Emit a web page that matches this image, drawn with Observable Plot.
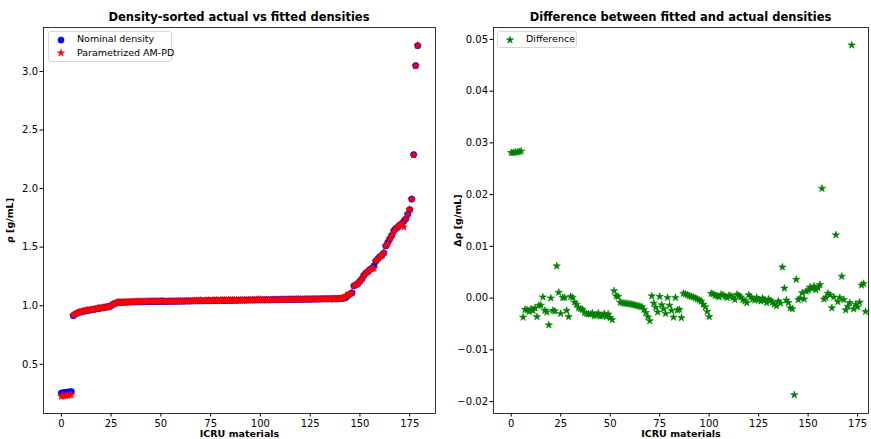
<!DOCTYPE html>
<html><head><meta charset="utf-8">
<script src="https://cdn.jsdelivr.net/npm/d3@7"></script>
<script src="https://cdn.jsdelivr.net/npm/@observablehq/plot@0.6"></script>
<style>
body{margin:0;background:#fff;font-family:"DejaVu Sans",sans-serif;}
#wrap{position:relative;width:871px;height:439px;overflow:hidden;background:#fff;}
.panel{position:absolute;top:0;}
.title{position:absolute;top:10px;font-weight:bold;font-size:11.5px;white-space:nowrap;transform:translateX(-50%);color:#000;}
.legend{position:absolute;border:1px solid #d6d6d6;border-radius:3px;background:rgba(255,255,255,0.85);font-size:9.5px;color:#000;}
.legend svg{position:absolute;overflow:visible;}
.legend span{position:absolute;line-height:12px;white-space:nowrap;}
g[aria-label="x-axis label"] text, g[aria-label="y-axis label"] text{font-weight:bold;font-size:9.5px;}
</style>
</head><body>
<div id="wrap"></div>
<script>
// ---- data ----
const xTicks = [0, 25, 50, 75, 100, 125, 150, 175];
const yTicksLeft = [0.5, 1.0, 1.5, 2.0, 2.5, 3.0];
const yTicksRight = [-0.02, -0.01, 0.00, 0.01, 0.02, 0.03, 0.04, 0.05];

// Nominal densities (g/mL), sorted, ICRU materials 0..179
const nominalDensity = [
  0.255, 0.258, 0.260, 0.262, 0.265, 0.268, 0.915, 0.928, 0.937, 0.943,
  0.948, 0.952, 0.956, 0.959, 0.962, 0.965, 0.968, 0.971, 0.974, 0.977,
  0.980, 0.983, 0.986, 0.990, 0.994, 1.000, 1.012, 1.020, 1.026, 1.028,
  1.029, 1.030, 1.030, 1.031, 1.031, 1.032, 1.032, 1.032, 1.033, 1.033,
  1.033, 1.034, 1.034, 1.034, 1.035, 1.035, 1.035, 1.035, 1.036, 1.036,
  1.036, 1.037, 1.037, 1.037, 1.038, 1.038, 1.038, 1.038, 1.039, 1.039,
  1.039, 1.039, 1.040, 1.040, 1.040, 1.040, 1.041, 1.041, 1.041, 1.041,
  1.042, 1.042, 1.042, 1.043, 1.043, 1.043, 1.043, 1.044, 1.044, 1.044,
  1.045, 1.045, 1.045, 1.045, 1.046, 1.046, 1.046, 1.047, 1.047, 1.047,
  1.048, 1.048, 1.048, 1.048, 1.049, 1.049, 1.049, 1.049, 1.050, 1.050,
  1.050, 1.050, 1.051, 1.051, 1.051, 1.051, 1.052, 1.052, 1.052, 1.052,
  1.053, 1.053, 1.053, 1.053, 1.054, 1.054, 1.054, 1.054, 1.055, 1.055,
  1.055, 1.055, 1.055, 1.056, 1.056, 1.056, 1.056, 1.057, 1.057, 1.057,
  1.057, 1.058, 1.058, 1.058, 1.058, 1.059, 1.059, 1.060, 1.060, 1.060,
  1.061, 1.062, 1.064, 1.070, 1.090, 1.100, 1.110, 1.170, 1.180, 1.190,
  1.210, 1.230, 1.260, 1.280, 1.290, 1.310, 1.320, 1.340, 1.380, 1.400,
  1.420, 1.430, 1.450, 1.510, 1.540, 1.570, 1.600, 1.640, 1.660, 1.670,
  1.690, 1.700, 1.720, 1.740, 1.780, 1.820, 1.910, 2.290, 3.050, 3.220
];

// Difference (nominal - fitted), g/mL
const densityDifference = [
  0.0281, 0.0281, 0.0282, 0.0282, 0.0283, 0.0284, -0.0037, -0.0022, -0.0023, -0.0026,
  -0.0021, -0.0024, -0.0019, -0.0036, -0.0014, -0.0014, 0.0002, -0.0024, -0.0027, -0.0052,
  0.0000, -0.0024, -0.0025, 0.0062, 0.0011, -0.0030, 0.0001, 0.0001, -0.0024, -0.0036,
  0.0003, 0.0001, -0.0008, -0.0012, -0.0019, -0.0021, -0.0022, -0.0028, -0.0030, -0.0031,
  -0.0031, -0.0029, -0.0034, -0.0033, -0.0029, -0.0035, -0.0034, -0.0030, -0.0036, -0.0031,
  -0.0038, -0.0042, 0.0014, 0.0004, 0.0003, -0.0008, -0.0009, -0.0010, -0.0010, -0.0011,
  -0.0011, -0.0012, -0.0013, -0.0014, -0.0015, -0.0016, -0.0017, -0.0022, -0.0028, -0.0036,
  -0.0044, 0.0004, -0.0010, -0.0018, -0.0027, 0.0003, -0.0013, -0.0021, -0.0030, 0.0001,
  -0.0014, -0.0024, -0.0037, 0.0001, -0.0023, -0.0022, -0.0038, 0.0009, 0.0008, 0.0006,
  0.0004, 0.0003, 0.0002, 0.0000, -0.0002, -0.0004, -0.0006, -0.0012, -0.0017, -0.0026,
  -0.0036, 0.0009, 0.0008, 0.0005, 0.0004, 0.0002, 0.0007, 0.0006, 0.0003, 0.0001,
  0.0005, 0.0004, 0.0001, -0.0003, 0.0007, 0.0005, 0.0002, -0.0003, -0.0006, -0.0009,
  0.0006, 0.0002, -0.0002, -0.0004, 0.0001, -0.0003, -0.0006, 0.0000, -0.0004, -0.0009,
  -0.0002, -0.0005, -0.0008, -0.0012, -0.0015, -0.0006, -0.0010, 0.0060, 0.0019, -0.0004,
  -0.0009, -0.0019, -0.0021, -0.0187, 0.0036, -0.0003, 0.0000, 0.0010, -0.0002, 0.0013,
  0.0015, 0.0021, 0.0018, 0.0023, 0.0016, 0.0020, 0.0026, 0.0212, -0.0002, 0.0001,
  0.0009, 0.0006, -0.0019, 0.0002, 0.0122, -0.0007, 0.0001, 0.0042, -0.0003, -0.0023,
  -0.0016, -0.0009, 0.0489, -0.0021, -0.0012, -0.0017, -0.0008, 0.0025, 0.0028, -0.0026
];

if (nominalDensity.length !== 180 || densityDifference.length !== 180)
  throw new Error("length mismatch " + nominalDensity.length + " " + densityDifference.length);

const rows = nominalDensity.map((v, i) => ({
  i, nominal: v, diff: densityDifference[i], fitted: v - densityDifference[i]
}));

const font = {fontFamily: "DejaVu Sans", fontSize: "10px", color: "#000", background: "transparent", overflow: "visible"};

const left = Plot.plot({
  width: 440, height: 439,
  marginLeft: 43, marginRight: 5, marginTop: 27, marginBottom: 26,
  style: font,
  x: {domain: [-8.95, 187.95]},
  y: {domain: [0.08, 3.375]},
  marks: [
    Plot.axisX({ticks: xTicks, tickSize: 3.5, tickPadding: 2.5, label: "ICRU materials", labelAnchor: "center", labelArrow: "none", labelOffset: 23.5}),
    Plot.axisY({ticks: yTicksLeft, tickFormat: d3.format(".1f"), tickSize: 3.5, tickPadding: 2, label: "ρ [g/mL]", labelAnchor: "center", labelArrow: "none", labelOffset: 37}),
    Plot.dot(rows, {x: "i", y: "nominal", r: 3.1, fill: "#0000ff", stroke: "#0000ff", strokeWidth: 0.6}),
    Plot.dot(rows, {x: "i", y: "fitted", symbol: "star", r: 2.3, fill: "#ff0000", stroke: "#ff0000", strokeWidth: 0.6}),
    Plot.frame({stroke: "#000", strokeWidth: 0.8})
  ]
});

const right = Plot.plot({
  width: 421, height: 439,
  marginLeft: 43, marginRight: 3, marginTop: 27, marginBottom: 26,
  style: font,
  x: {domain: [-8.95, 180.5]},
  y: {domain: [-0.0223, 0.0523]},
  marks: [
    Plot.axisX({ticks: xTicks, tickSize: 3.5, tickPadding: 2.5, label: "ICRU materials", labelAnchor: "center", labelArrow: "none", labelOffset: 23.5}),
    Plot.axisY({ticks: yTicksRight, tickFormat: d3.format(".2f"), tickSize: 3.5, tickPadding: 2, label: "Δρ [g/mL]", labelAnchor: "center", labelArrow: "none", labelOffset: 39}),
    Plot.dot(rows, {x: "i", y: "diff", symbol: "star", r: 2.3, fill: "#008000", stroke: "#008000", strokeWidth: 0.6}),
    Plot.frame({stroke: "#000", strokeWidth: 0.8})
  ]
});

const wrap = document.getElementById("wrap");
left.classList.add("panel"); left.style.left = "0px";
right.classList.add("panel"); right.style.left = "450px";
wrap.appendChild(left);
wrap.appendChild(right);

function addTitle(text, cx) {
  const d = document.createElement("div");
  d.className = "title"; d.textContent = text; d.style.left = cx + "px";
  wrap.appendChild(d);
}
addTitle("Density-sorted actual vs fitted densities", 239);
addTitle("Difference between fitted and actual densities", 680.5);

const starPath = d3.symbol(d3.symbolStar, 16)();
const circlePath = d3.symbol(d3.symbolCircle, 30)();
function addLegend(x, y, w, h, items) {
  const box = document.createElement("div");
  box.className = "legend";
  Object.assign(box.style, {left: x + "px", top: y + "px", width: w + "px", height: h + "px"});
  items.forEach((it, k) => {
    const cy = 7.5 + k * 13.5;
    const svg = document.createElementNS("http://www.w3.org/2000/svg", "svg");
    svg.setAttribute("width", 1); svg.setAttribute("height", 1);
    svg.style.left = "12px"; svg.style.top = cy + "px";
    const p = document.createElementNS("http://www.w3.org/2000/svg", "path");
    p.setAttribute("d", it.shape === "star" ? starPath : circlePath);
    p.setAttribute("fill", it.color); p.setAttribute("stroke", it.color); p.setAttribute("stroke-width", 0.6);
    svg.appendChild(p); box.appendChild(svg);
    const s = document.createElement("span");
    s.textContent = it.label; s.style.left = "28px"; s.style.top = (cy - 6.5) + "px";
    box.appendChild(s);
  });
  wrap.appendChild(box);
}
addLegend(48, 31, 122, 29, [
  {label: "Nominal density", color: "#0000ff", shape: "circle"},
  {label: "Parametrized AM-PD", color: "#ff0000", shape: "star"}
]);
addLegend(497, 31, 78, 15, [
  {label: "Difference", color: "#008000", shape: "star"}
]);
</script>
</body></html>
